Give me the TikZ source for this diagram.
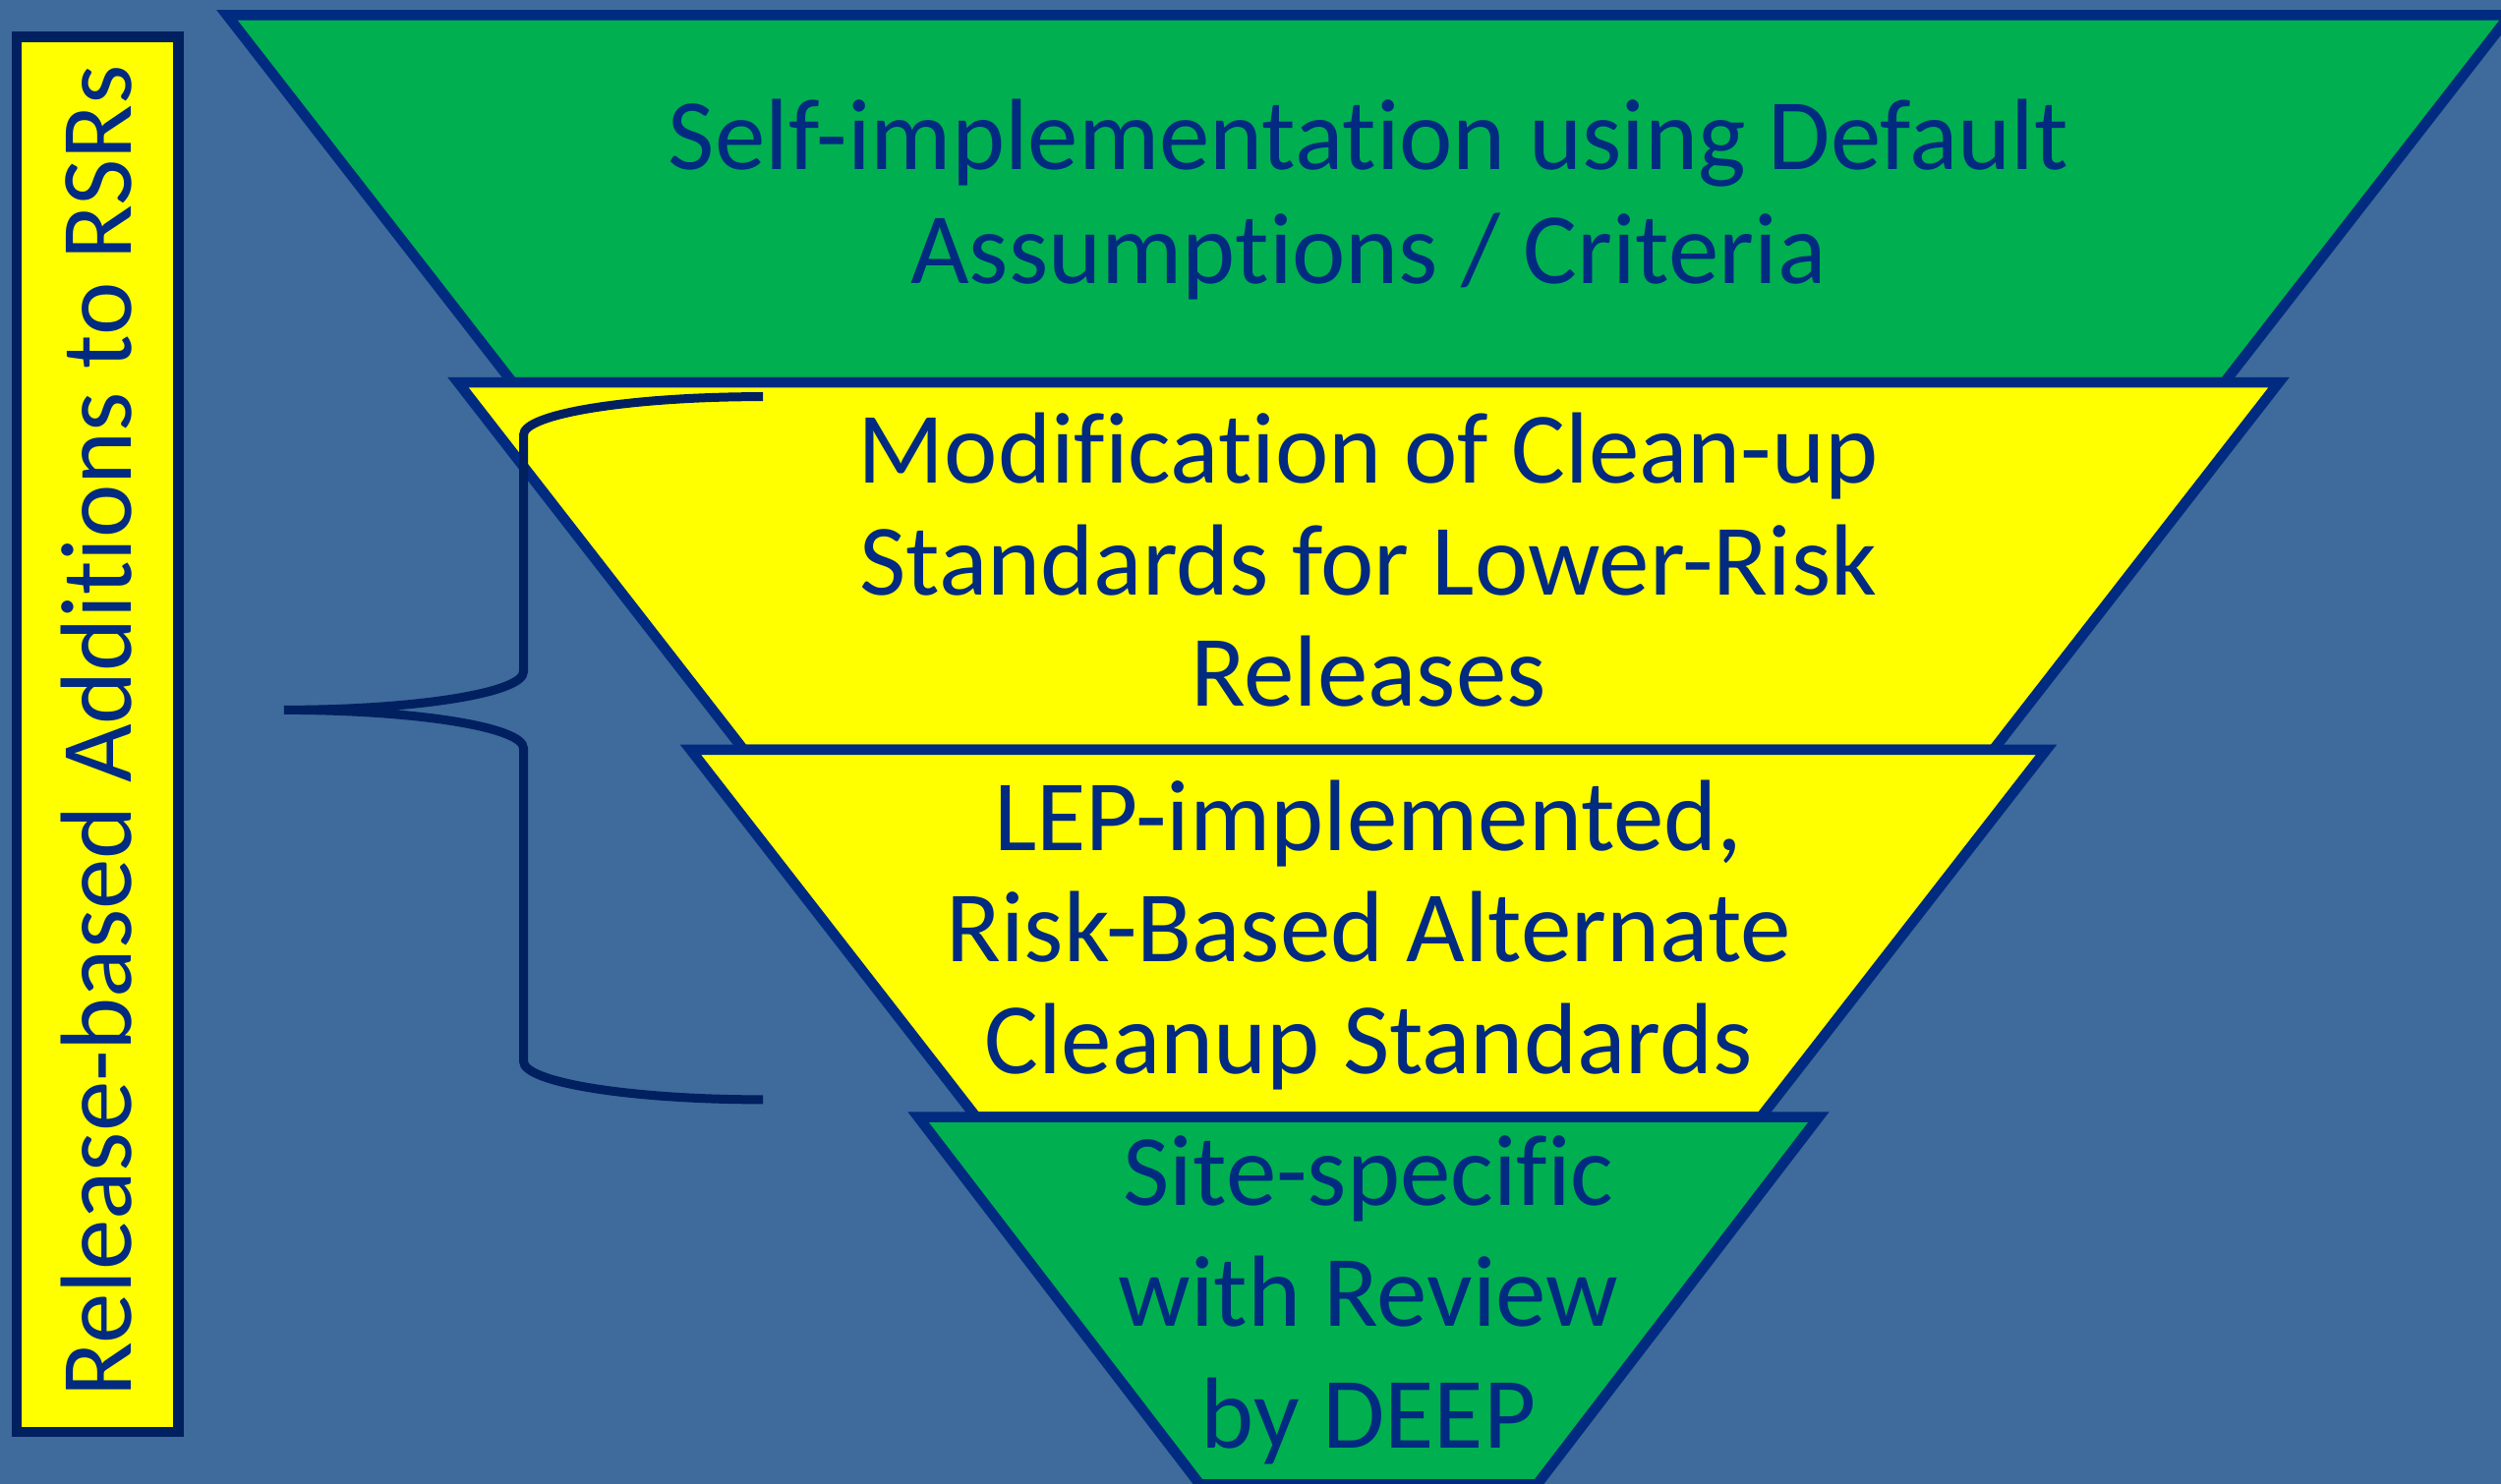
\documentclass[tikz,border=0pt]{standalone}
\usepackage{fontspec}
\setmainfont{Carlito}[Ligatures=NoCommon]
\definecolor{bg}{RGB}{62,107,155}
\definecolor{navy}{RGB}{0,43,128}
\definecolor{darknavy}{RGB}{0,32,96}
\definecolor{fgreen}{RGB}{0,176,80}
\definecolor{fyellow}{RGB}{255,255,0}
\newcommand\lblfont[1]{\fontsize{30.9pt}{#1}\selectfont}
\begin{document}
\begin{tikzpicture}[x=0.3pt,y=-0.3pt,
  layer/.style={draw=navy,line width=3.15pt,line join=miter},
  greenlayer/.style={layer,fill=fgreen},
  yellowlayer/.style={layer,fill=fyellow},
  label/.style={text=navy,align=center,anchor=base,inner sep=0pt},
  sidebox/.style={draw=darknavy,fill=fyellow,line width=3.2pt},
  bracestyle/.style={draw=darknavy,line width=2.7pt},
]
\useasboundingbox (0,0) rectangle (2544,1510);
\clip (0,0) rectangle (2544,1510);
\fill[bg] (0,0) rectangle (2544,1510);

% side box
\draw[sidebox] (17,37.5) rectangle (181.5,1457);
\node[label,rotate=90,font=\lblfont{37pt}] (side) at (133,744) {Release-based Additions to RSRs};

% funnel layers
\draw[greenlayer] (231,15.5) -- (2553,15.5) -- (2262.6,389.2) -- (521.4,389.2) -- cycle;
\draw[yellowlayer] (466,389.2) -- (2318,389.2) -- (2027.6,762.9) -- (756.4,762.9) -- cycle;
\draw[yellowlayer] (702.5,762.9) -- (2081.5,762.9) -- (1791.1,1136.6) -- (992.9,1136.6) -- cycle;
\draw[greenlayer] (934,1136.6) -- (1850,1136.6) -- (1563.6,1510.3) -- (1220.4,1510.3) -- cycle;

% texts (base anchor = baseline of the last line)
\node[label,font=\lblfont{34.8pt}] (t1) at (1392,289) {Self-implementation using Default\\Assumptions / Criteria};
\node[label,font=\lblfont{34.2pt}] (t2) at (1392,719) {Modification of Clean-up\\Standards for Lower-Risk\\Releases};
\node[label,font=\lblfont{34.0pt}] (t3) at (1392,1092) {LEP-implemented,\\Risk-Based Alternate\\Cleanup Standards};
\node[label,font=\lblfont{37.0pt}] (t4) at (1392,1473) {Site-specific\\with Review\\by DEEP};

% brace
\coordinate (bTop) at (776,403.6);
\coordinate (bTip) at (289,722.4);
\coordinate (bBot) at (776,1118.9);
\draw[bracestyle] (bTop) .. controls (641.5,403.6) and (532.5,421) .. (532.5,442.6)
  -- (532.5,683.4) .. controls (532.5,705) and (423.5,722.4) .. (bTip)
  .. controls (423.5,722.4) and (532.5,739.9) .. (532.5,761.4)
  -- (532.5,1079.9) .. controls (532.5,1101.4) and (641.5,1118.9) .. (bBot);
\end{tikzpicture}
\end{document}
